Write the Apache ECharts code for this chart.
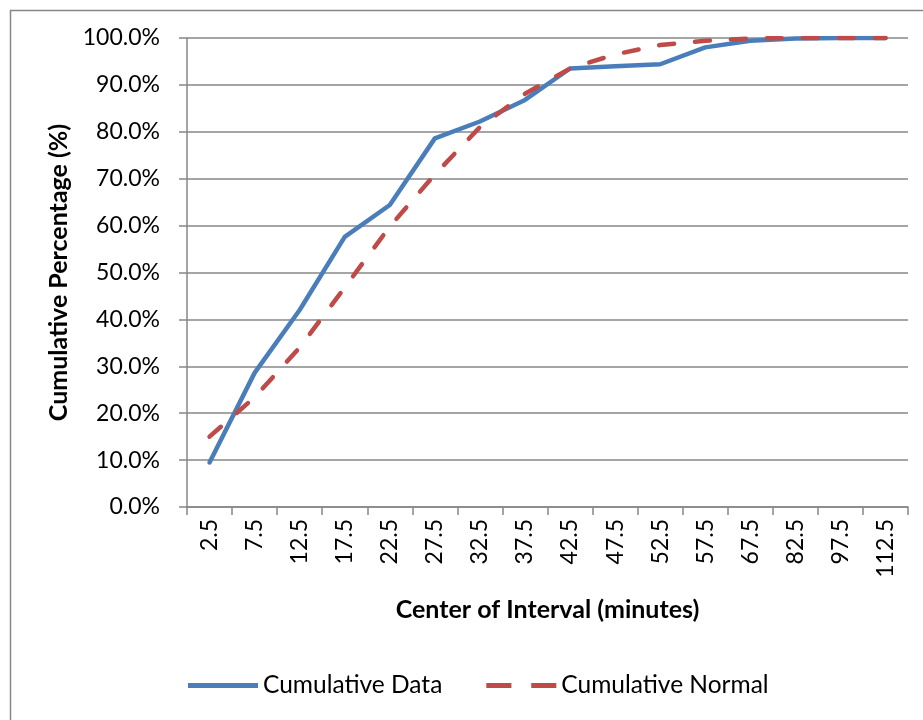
<!DOCTYPE html>
<html>
<head>
<meta charset="utf-8">
<script src="https://cdn.jsdelivr.net/npm/echarts@6/dist/echarts.min.js"></script>
<style>
html,body{margin:0;padding:0;background:#fff;}
#chart{width:923px;height:720px;}
</style>
</head>
<body>
<div id="chart"></div>
<script>
var categories = ['2.5','7.5','12.5','17.5','22.5','27.5','32.5','37.5','42.5','47.5','52.5','57.5','67.5','82.5','97.5','112.5'];
var cumulativeData = [9.5, 28.6, 42.0, 57.6, 64.4, 78.6, 82.2, 86.8, 93.5, 94.0, 94.4, 98.0, 99.4, 99.9, 100, 100];
var cumulativeNormal = [15.0, 23.4, 34.0, 46.8, 59.8, 70.9, 81.0, 88.1, 93.5, 96.5, 98.5, 99.4, 99.9, 100, 100, 100];
var yTicks = {min: 0, max: 100, interval: 10};

var FONT = 'Lato';
var chart = echarts.init(document.getElementById('chart'), null, {renderer: 'canvas'});
chart.setOption({
  animation: false,
  backgroundColor: '#ffffff',
  textStyle: {fontFamily: FONT},
  graphic: [{
    type: 'rect', left: 8, top: 8, silent: true,
    shape: {width: 940, height: 740},
    style: {fill: 'none', stroke: '#878787', lineWidth: 1.5}
  }],
  grid: {left: 187, top: 38, right: 15, bottom: 213, containLabel: false},
  legend: {
    left: 183, top: 668,
    itemWidth: 70, itemHeight: 5, itemGap: 44,
    symbolKeepAspect: false,
    textStyle: {fontFamily: FONT, fontSize: 24.5, color: '#000'},
    data: [
      {name: 'Cumulative Data', icon: 'path://M0,0H70V5H0Z'},
      {name: 'Cumulative Normal', icon: 'path://M0,0H24V5H0Z M43,0H67V5H43Z'}
    ]
  },
  xAxis: {
    type: 'category',
    data: categories,
    boundaryGap: true,
    name: 'Center of Interval (minutes)',
    nameLocation: 'middle',
    nameGap: 90,
    nameTextStyle: {fontFamily: FONT, fontSize: 25, fontWeight: 'bold', color: '#000'},
    axisLine: {lineStyle: {color: '#878787', width: 1.5}},
    axisTick: {show: true, length: 8, interval: 0, lineStyle: {color: '#878787', width: 1.5}},
    axisLabel: {rotate: 90, interval: 0, margin: 12, fontFamily: FONT, fontSize: 23, color: '#000'},
    splitLine: {show: false}
  },
  yAxis: {
    type: 'value',
    min: yTicks.min, max: yTicks.max, interval: yTicks.interval,
    name: 'Cumulative Percentage (%)',
    nameLocation: 'middle',
    nameGap: 114,
    nameRotate: 90,
    nameTextStyle: {fontFamily: FONT, fontSize: 25, fontWeight: 'bold', color: '#000'},
    axisLine: {show: true, lineStyle: {color: '#878787', width: 1.5}},
    axisTick: {show: true, length: 8, lineStyle: {color: '#878787', width: 1.5}},
    axisLabel: {margin: 27, fontFamily: FONT, fontSize: 23, color: '#000',
      formatter: function (v) { return v.toFixed(1) + '%'; }},
    splitLine: {show: true, lineStyle: {color: '#878787', width: 1.5}}
  },
  series: [
    {
      name: 'Cumulative Data', type: 'line', data: cumulativeData,
      symbol: 'none', smooth: false, z: 3,
      itemStyle: {color: '#4a7ebb'},
      lineStyle: {color: '#4a7ebb', width: 4.5, cap: 'round', join: 'round'}
    },
    {
      name: 'Cumulative Normal', type: 'line', data: cumulativeNormal,
      symbol: 'none', smooth: false, z: 4,
      itemStyle: {color: '#be4b48'},
      lineStyle: {color: '#be4b48', width: 4.5, type: [15, 21], cap: 'round'}
    }
  ]
});
</script>
</body>
</html>
